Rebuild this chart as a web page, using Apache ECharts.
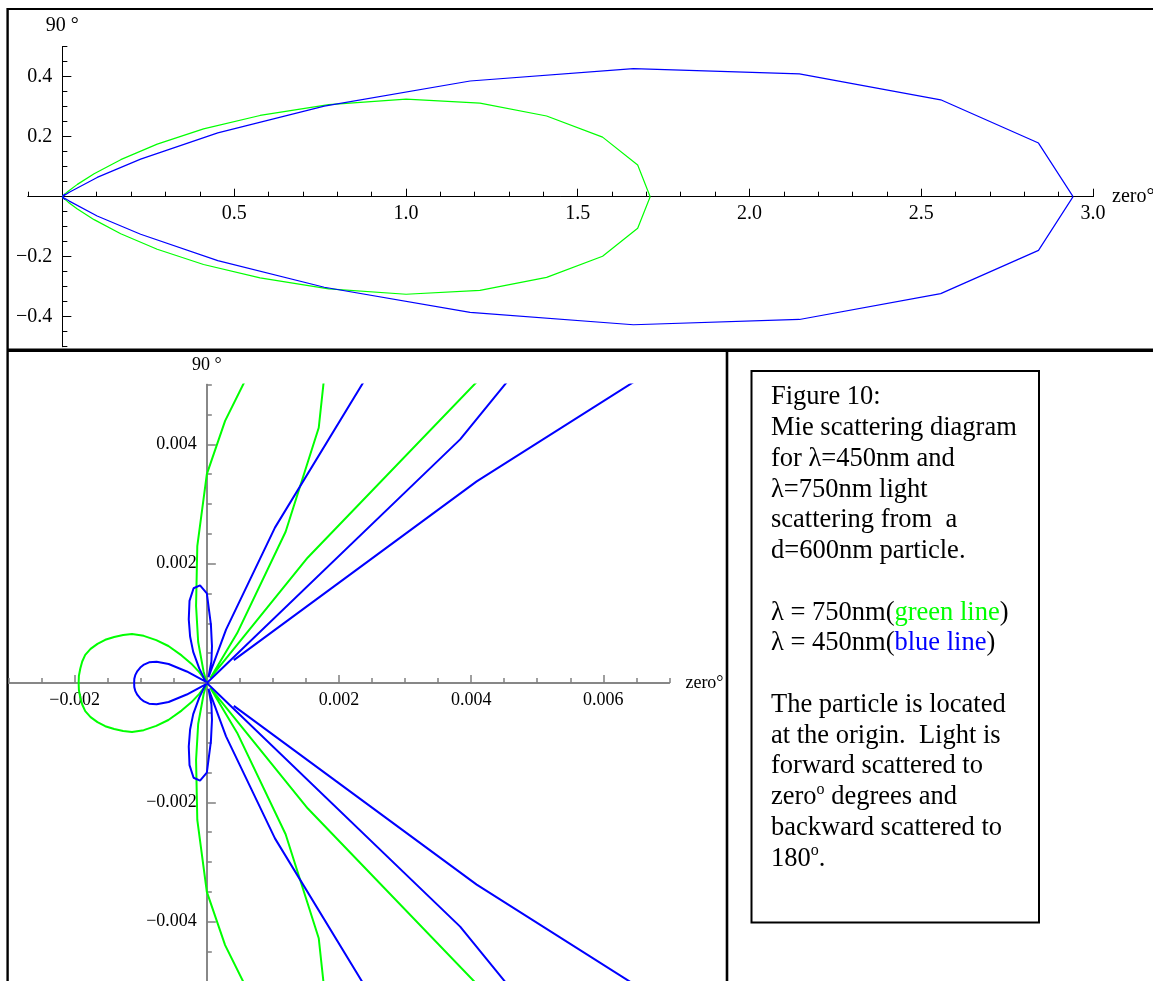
<!DOCTYPE html>
<html><head><meta charset="utf-8">
<script src="https://cdn.jsdelivr.net/npm/echarts@6/dist/echarts.min.js"></script>
<style>html,body{margin:0;padding:0;background:#fff}#c{width:1153px;height:981px}</style>
</head><body><div id="c"></div><script>
// ---------- data ----------
// scattering angle of every sample, degrees (upper half; lower half is the mirror image)
const ANGLES_DEG = [0,3.6,7.2,10.8,14.4,18,21.6,25.2,28.8,32.4,36,39.6,43.2,46.8,50.4,54,57.6,61.2,64.8,68.4,
  72,75.6,79.2,82.8,86.4,90,93.6,97.2,100.8,104.4,108,111.6,115.2,118.8,122.4,126,129.6,133.2,136.8,140.4,
  144,147.6,151.2,154.8,158.4,162,165.6,169.2,172.8,176.4,180];
// lambda = 450nm (blue) scattered intensity at each angle
const BLUE_R = [2.942,2.847,2.577,2.184,1.716,1.248,0.82,0.50,0.26,0.12,0.025,0.0053,0.00056,0.0056,0.0118,0.013,0.012,0.009,0.0056,0.0028,
  0.00094,0.0001,0.00037,0.00062,0.00098,0.0015,0.00164,0.0016,0.0014,0.0011,0.00082,0.00056,0.00027,0.00008,0.00002,0.00002,0.00003,0.00002,0.00001,0.00002,
  0.00005,0.00036,0.00066,0.00084,0.00094,0.001,0.00104,0.00107,0.00109,0.0011,0.0011];
// the blue trace is broken after this angle and restarts from the origin
const BLUE_RESTART_AFTER_DEG = 43.2;
// lambda = 750nm (green) scattered intensity at each angle
const GREEN_R = [1.711,1.678,1.585,1.435,1.255,1.052,0.834,0.636,0.469,0.327,0.21,0.12,0.06,0.025,0.0093,0.0026,0.0001,0.00095,0.0028,0.0046,
  0.0059,0.0066,0.0063,0.0053,0.0044,0.0035,0.0023,0.0013,0.0007,0.0002,0.00003,0.00002,0.00004,0.0001,0.00022,0.0004,0.0006,0.00085,0.00105,0.00124,
  0.0014,0.0015,0.0016,0.0017,0.00178,0.00185,0.0019,0.00192,0.00193,0.00194,0.00194];
// tick labels
const TOP_X_LABELS = [0.5,1.0,1.5,2.0,2.5,3.0];
const TOP_Y_LABELS = [-0.4,-0.2,0.2,0.4];
const BOT_X_LABELS = [-0.002,0.002,0.004,0.006];
const BOT_Y_LABELS = [-0.004,-0.002,0.002,0.004];
const NAME_90 = '90 °';
const NAME_ZERO = 'zero°';
const CAPTION = [
  'Figure 10:',
  'Mie scattering diagram',
  'for λ=450nm and',
  'λ=750nm light',
  'scattering from  a',
  'd=600nm particle.',
  '',
  'λ = 750nm({g|green line})',
  'λ = 450nm({b|blue line})',
  '',
  'The particle is located',
  'at the origin.  Light is',
  'forward scattered to',
  'zero{s|o} degrees and',
  'backward scattered to',
  '180{s|o}.'
];

// ---------- helpers ----------
const FONT = '"Liberation Serif","Times New Roman",serif';
const BLUE = '#0000ff', GREEN = '#00ff00';
function trace(R, restartAfter, sign) {
  const pts = [];
  for (let i = 0; i < ANGLES_DEG.length; i++) {
    const a = ANGLES_DEG[i] * Math.PI / 180;
    pts.push([R[i] * Math.cos(a), sign * R[i] * Math.sin(a)]);
    if (restartAfter != null && Math.abs(ANGLES_DEG[i] - restartAfter) < 1e-9) { pts.push(null); pts.push([0, 0]); }
  }
  return pts;
}
function steps(a, b, s) { const o = []; const n = Math.round((b - a) / s); for (let i = 0; i <= n; i++) o.push(Math.round((a + i * s) * 1e7) / 1e7); return o; }
const minus = s => s.replace('-', '\u2212');

// axis crossing through the other axis' zero, done with a (negative) offset
function axisPair(dim, grid, min, max, offset, majorTicks, labels, minorTicks, digits, color, lw, fontSize, margin, name, nameGap) {
  const major = {
    type: 'value', gridIndex: grid, min: min, max: max, offset: offset,
    position: dim === 'x' ? 'bottom' : 'left',
    axisLine: { onZero: false, lineStyle: { color: color, width: lw } },
    axisTick: { inside: true, length: dim === 'x' ? 8 : 9, customValues: majorTicks, lineStyle: { color: color, width: lw } },
    axisLabel: { customValues: labels, formatter: v => minus(v.toFixed(digits)), color: '#000', fontFamily: FONT, fontSize: fontSize, margin: margin },
    splitLine: { show: false },
    name: name, nameLocation: 'end', nameGap: nameGap,
    nameTextStyle: { color: '#000', fontFamily: FONT, fontSize: fontSize }
  };
  const minor = {
    type: 'value', gridIndex: grid + 1, min: min, max: max, offset: offset,
    position: dim === 'x' ? 'bottom' : 'left',
    axisLine: { onZero: false, lineStyle: { color: color, width: lw } },
    axisTick: { inside: true, length: 5, customValues: minorTicks, lineStyle: { color: color, width: lw } },
    axisLabel: { show: false }, splitLine: { show: false }
  };
  return [major, minor];
}

const topRect = { left: 28, top: 46.7, width: 1065, height: 300, outerBoundsMode: 'none' };
const botRect = { left: 8.6, top: 384.6, width: 660.8, height: 596.8, outerBoundsMode: 'none' };
const TOP_X = [-0.1, 3.0], TOP_Y = [-0.5, 0.5], BOT_X = [-0.003, 0.007], BOT_Y = [-0.005, 0.005];
const zeroOff = (rng, size) => -(0 - rng[0]) / (rng[1] - rng[0]) * size;

const [tx0, tx1] = axisPair('x', 0, TOP_X[0], TOP_X[1], zeroOff(TOP_Y, topRect.height), TOP_X_LABELS, TOP_X_LABELS, steps(-0.1, 3.0, 0.1), 1, '#000', 1, 20, 7, NAME_ZERO, 19);
const [ty0, ty1] = axisPair('y', 0, TOP_Y[0], TOP_Y[1], zeroOff(TOP_X, topRect.width), TOP_Y_LABELS, TOP_Y_LABELS, steps(-0.5, 0.5, 0.05), 1, '#000', 1, 20, 10, NAME_90, 11);
const [bx0, bx1] = axisPair('x', 2, BOT_X[0], BOT_X[1], zeroOff(BOT_Y, botRect.height), BOT_X_LABELS, BOT_X_LABELS, steps(-0.003, 0.007, 0.0005), 3, '#808080', 1.5, 18, 8, NAME_ZERO, 16);
const [by0, by1] = axisPair('y', 2, BOT_Y[0], BOT_Y[1], zeroOff(BOT_X, botRect.width), BOT_Y_LABELS, BOT_Y_LABELS, steps(-0.005, 0.005, 0.0005), 3, '#808080', 1.5, 18, 10, NAME_90, 10);

function lineSeries(data, color, width, ax) {
  return { type: 'line', xAxisIndex: ax, yAxisIndex: ax, data: data, showSymbol: false, symbol: 'none',
    connectNulls: false, clip: true, lineStyle: { color: color, width: width }, z: 3, silent: true };
}
const series = [];
[[0, 1.2], [2, 2]].forEach(([ax, w]) => {
  series.push(lineSeries(trace(GREEN_R, null, 1), GREEN, w, ax));
  series.push(lineSeries(trace(GREEN_R, null, -1), GREEN, w, ax));
  series.push(lineSeries(trace(BLUE_R, BLUE_RESTART_AFTER_DEG, 1), BLUE, w, ax));
  series.push(lineSeries(trace(BLUE_R, BLUE_RESTART_AFTER_DEG, -1), BLUE, w, ax));
});

const chart = echarts.init(document.getElementById('c'), null, { renderer: 'canvas' });
chart.setOption({
  animation: false,
  backgroundColor: '#fff',
  grid: [topRect, topRect, botRect, botRect],
  xAxis: [tx0, tx1, bx0, bx1],
  yAxis: [ty0, ty1, by0, by1],
  series: series,
  graphic: [
    { type: 'line', shape: { x1: 7, y1: 9, x2: 1153, y2: 9 }, style: { stroke: '#000', lineWidth: 2.2 } },
    { type: 'line', shape: { x1: 7.6, y1: 8, x2: 7.6, y2: 981 }, style: { stroke: '#000', lineWidth: 2.4 } },
    { type: 'line', shape: { x1: 7, y1: 350.3, x2: 1153, y2: 350.3 }, style: { stroke: '#000', lineWidth: 3.6 } },
    { type: 'line', shape: { x1: 727, y1: 350, x2: 727, y2: 981 }, style: { stroke: '#000', lineWidth: 2.6 } },
    { type: 'rect', shape: { x: 751.5, y: 371, width: 287.5, height: 551.5 }, style: { fill: '#fff', stroke: '#000', lineWidth: 2 } },
    { type: 'text', x: 771, y: 382, style: {
        text: CAPTION.join('\n'), fontFamily: FONT, fontSize: 26.5, lineHeight: 30.75, fill: '#000',
        verticalAlign: 'top', align: 'left',
        rich: {
          g: { fill: GREEN, fontFamily: FONT, fontSize: 26.5, lineHeight: 30.75 },
          b: { fill: BLUE, fontFamily: FONT, fontSize: 26.5, lineHeight: 30.75 },
          s: { fill: '#000', fontFamily: FONT, fontSize: 16, lineHeight: 16, verticalAlign: 'top' }
        } } }
  ]
});
</script></body></html>
